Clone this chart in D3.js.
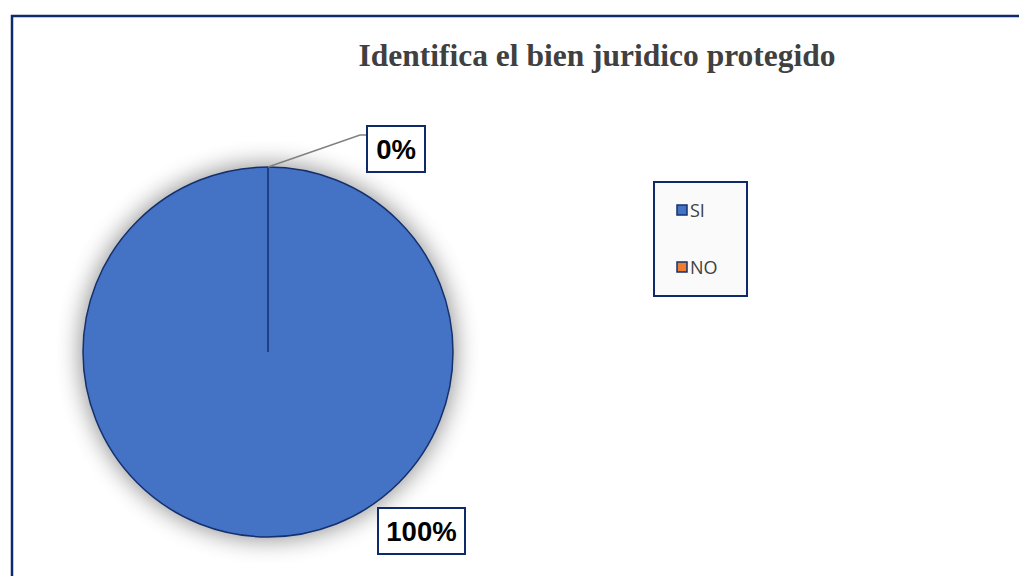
<!DOCTYPE html>
<html><head><meta charset="utf-8">
<script src="https://cdn.jsdelivr.net/npm/d3@7"></script>
<style>body{margin:0;background:#fff}</style>
</head><body>
<svg id="c" width="1019" height="576"></svg>
<script>
const categories = ["SI", "NO"];
const values = [100, 0];
const labels = ["100%", "0%"];
const colors = ["#4472C4", "#ED7D31"];
const title = "Identifica el bien juridico protegido";

const svg = d3.select("#c");
const navy = "#0F2A6B";
const defs = svg.append("defs");
const f = defs.append("filter").attr("id","sh").attr("x","-30%").attr("y","-30%").attr("width","160%").attr("height","160%");
f.append("feGaussianBlur").attr("in","SourceAlpha").attr("stdDeviation",12).attr("result","b");
f.append("feComponentTransfer").append("feFuncA").attr("type","linear").attr("slope",0.45);

// frame
svg.append("path").attr("d","M12,580 L12,16 L1025,16").attr("fill","none").attr("stroke",navy).attr("stroke-width",2.5);

svg.append("text").attr("x",597).attr("y",66).attr("text-anchor","middle")
  .attr("font-family","Liberation Serif, Times New Roman, serif").attr("font-weight","bold")
  .attr("font-size",31.5).attr("fill","#404040").text(title);

const cx = 268, cy = 352, r = 185;
const pie = d3.pie().sort(null).value(d=>d)(values);
const arc = d3.arc().innerRadius(0).outerRadius(r);
const g = svg.append("g").attr("transform",`translate(${cx},${cy})`);
g.append("circle").attr("r",r+2).attr("fill","#000").attr("filter","url(#sh)");
g.selectAll("path.s").data(pie).enter().append("path").attr("class","s")
  .attr("d",arc).attr("fill",(d,i)=>colors[i]).attr("stroke","#15306E").attr("stroke-width",1.5);

// leader line for 0%
const p0 = pie[1];
const a0 = p0.startAngle;
const px = cx + r*Math.sin(a0), py = cy - r*Math.cos(a0);
svg.append("polyline").attr("points",`${px},${py} ${360},${135} ${367},${135}`)
  .attr("fill","none").attr("stroke","#808080").attr("stroke-width",1.5);

function labelBox(x,y,w,h,t){
  svg.append("rect").attr("x",x).attr("y",y).attr("width",w).attr("height",h)
    .attr("fill","#fff").attr("stroke",navy).attr("stroke-width",2);
  svg.append("text").attr("x",x+w/2).attr("y",y+h/2+10).attr("text-anchor","middle")
    .attr("font-family","Liberation Sans, Arial, sans-serif").attr("font-weight","bold")
    .attr("font-size",27.5).attr("fill","#000").text(t);
}
labelBox(367,126,58,46,labels[1]);
labelBox(378,508,87,46,labels[0]);

// legend
svg.append("rect").attr("x",654).attr("y",182).attr("width",93).attr("height",114)
  .attr("fill","#fafafa").attr("stroke",navy).attr("stroke-width",2);
const lg = svg.selectAll("g.l").data(categories).enter().append("g").attr("class","l")
  .attr("transform",(d,i)=>`translate(677,${205+i*57})`);
lg.append("rect").attr("width",10).attr("height",10).attr("fill",(d,i)=>colors[i]).attr("stroke","#15306E").attr("stroke-width",1.5);
lg.append("text").attr("x",13).attr("y",12).attr("font-family","Open Sans, Liberation Sans, sans-serif")
  .attr("font-size",18).attr("fill","#404040").text(d=>d);
</script>
</body></html>
